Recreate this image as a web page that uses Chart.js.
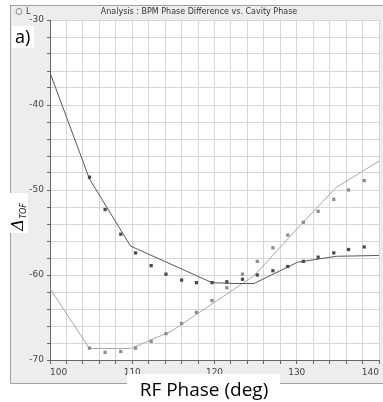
<!DOCTYPE html>
<html>
<head>
<meta charset="utf-8">
<script src="https://cdn.jsdelivr.net/npm/chart.js@4"></script>
<style>
  html, body { margin: 0; padding: 0; background: #fff; overflow: hidden; }
  canvas { display: block; }
</style>
</head>
<body>
<canvas id="chart" width="383" height="402"></canvas>
<script>
// measured points (RF phase in deg)
const phase = [104.8, 106.7, 108.6, 110.4, 112.3, 114.1, 116.0, 117.8, 119.7, 121.5,
  123.4, 125.2, 127.1, 128.9, 130.8, 132.6, 134.5, 136.3, 138.2];
const darkTof = [-48.5, -52.3, -55.2, -57.4, -58.9, -59.9, -60.6, -60.9, -60.9, -60.8,
  -60.5, -60.0, -59.5, -59.0, -58.4, -57.9, -57.4, -57.0, -56.7];
const lightTof = [-68.6, -69.1, -69.0, -68.6, -67.8, -66.9, -65.7, -64.4, -63.0, -61.5,
  -59.9, -58.4, -56.8, -55.3, -53.8, -52.5, -51.1, -50.0, -48.9];

// model curves
const darkFitPhase = [100, 104.8, 109.8, 119.7, 122.4, 124.8, 130.1, 134.8, 140];
const darkFit = [-36.2, -48.7, -56.6, -60.9, -61.0, -61.0, -58.5, -57.8, -57.7];
const lightFitPhase = [100, 104.8, 109.8, 114.8, 119.7, 124.8, 130.1, 134.8, 140];
const lightFit = [-61.6, -68.65, -68.65, -66.6, -63.4, -60.1, -54.5, -49.7, -46.6];

const xTicks = [100, 110, 120, 130, 140];
const yTicks = [-70, -60, -50, -40, -30];

const toXY = (xs, ys) => xs.map((x, i) => ({ x: x, y: ys[i] }));

const tickFont = { family: "DejaVu Sans", size: 9 };

const frame = {
  id: "frame",
  beforeDraw(chart) {
    const ctx = chart.ctx;
    const a = chart.chartArea;
    ctx.save();
    ctx.fillStyle = "#ffffff";
    ctx.fillRect(0, 0, chart.width, chart.height);
    ctx.fillStyle = "#ededed";
    ctx.fillRect(10, 5, chart.width - 10, 378);
    ctx.strokeStyle = "#a0a0a0";
    ctx.lineWidth = 1;
    ctx.beginPath();
    ctx.moveTo(10.5, 5);
    ctx.lineTo(10.5, 383.5);
    ctx.lineTo(chart.width, 383.5);
    ctx.moveTo(10.5, 5.5);
    ctx.lineTo(chart.width, 5.5);
    ctx.stroke();

    // title bar
    ctx.strokeStyle = "#888";
    ctx.beginPath();
    ctx.arc(19, 11.5, 3, 0, Math.PI * 2);
    ctx.stroke();
    ctx.fillStyle = "#333";
    ctx.font = '8px "DejaVu Sans"';
    ctx.textBaseline = "middle";
    ctx.fillText("L", 26, 12);
    ctx.textAlign = "center";
    ctx.fillText("Analysis : BPM Phase Difference vs. Cavity Phase", 199, 12);

    ctx.fillStyle = "#ffffff";
    ctx.fillRect(a.left, a.top, a.right - a.left, a.bottom - a.top);
    ctx.restore();
  },
  afterDraw(chart) {
    const ctx = chart.ctx;
    ctx.save();
    ctx.fillStyle = "#ffffff";
    ctx.fillRect(12, 26, 22, 22);
    ctx.fillRect(8, 193, 20, 40);
    ctx.fillRect(127, 374, 153, 28);

    ctx.fillStyle = "#000";
    ctx.textBaseline = "alphabetic";
    ctx.font = '18px "Open Sans"';
    ctx.fillText("a)", 15, 43);

    ctx.font = '19px "Open Sans"';
    ctx.textAlign = "center";
    ctx.fillText("RF Phase (deg)", 204, 396);

    // rotated y title: Delta with TOF subscript
    ctx.translate(23, 213);
    ctx.rotate(-Math.PI / 2);
    ctx.textAlign = "left";
    ctx.font = 'italic 17px "DejaVu Serif"';
    const w = ctx.measureText("Δ").width;
    ctx.fillText("Δ", -18, 0);
    ctx.font = 'italic 9px "Open Sans"';
    ctx.fillText("TOF", -18 + w, 3);
    ctx.restore();
  }
};

new Chart(document.getElementById("chart"), {
  type: "scatter",
  data: {
    datasets: [
      {
        data: toXY(phase, darkTof),
        pointStyle: "rect",
        pointRadius: 2.3,
        backgroundColor: "#4a4a4a",
        borderWidth: 0,
        showLine: false
      },
      {
        data: toXY(phase, lightTof),
        pointStyle: "rect",
        pointRadius: 2.3,
        backgroundColor: "#8c8c8c",
        borderWidth: 0,
        showLine: false
      },
      {
        data: toXY(darkFitPhase, darkFit),
        showLine: true,
        pointRadius: 0,
        borderColor: "#585858",
        borderWidth: 1,
        tension: 0
      },
      {
        data: toXY(lightFitPhase, lightFit),
        showLine: true,
        pointRadius: 0,
        borderColor: "#a8a8a8",
        borderWidth: 1,
        tension: 0
      }
    ]
  },
  options: {
    responsive: false,
    animation: false,
    layout: { padding: { left: 10, top: 20, right: 1, bottom: 20 } },
    plugins: {
      legend: { display: false },
      tooltip: { enabled: false }
    },
    scales: {
      x: {
        type: "linear",
        min: 100,
        max: 140,
        afterFit: (s) => { s.height = 22; },
        ticks: {
          stepSize: 2,
          autoSkip: false,
          maxRotation: 0,
          align: "inner",
          padding: 3,
          color: "#444",
          font: tickFont,
          callback: (v) => (xTicks.includes(v) ? String(v) : "")
        },
        grid: { color: "#d6d6d6", tickColor: "#666", tickLength: 4 },
        border: { color: "#666" }
      },
      y: {
        type: "linear",
        min: -70,
        max: -30,
        afterFit: (s) => { s.width = 40; },
        ticks: {
          stepSize: 2,
          autoSkip: false,
          padding: 3,
          color: "#444",
          font: tickFont,
          callback: (v) => (yTicks.includes(v) ? String(v) : "")
        },
        grid: { color: "#d6d6d6", tickColor: "#666", tickLength: 3 },
        border: { color: "#666" }
      }
    }
  },
  plugins: [frame]
});
</script>
</body>
</html>
